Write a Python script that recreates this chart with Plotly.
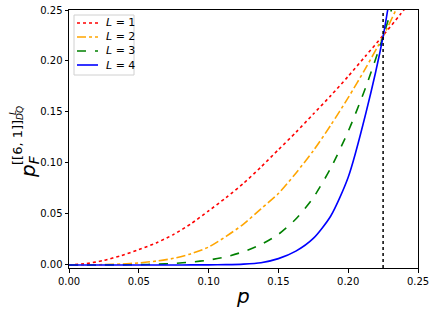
import plotly.graph_objects as go

p = [0.0, 0.0125, 0.025, 0.0375, 0.05, 0.0625, 0.075, 0.0875, 0.1, 0.1125, 0.125,
     0.1375, 0.15, 0.1625, 0.175, 0.1875, 0.2, 0.2125, 0.225, 0.2375, 0.25]
pf_L1 = [0.0, 0.0013, 0.0045, 0.0092, 0.0150, 0.0216, 0.0300, 0.0405, 0.053, 0.066, 0.080,
         0.096, 0.113, 0.130, 0.148, 0.166, 0.185, 0.205, 0.225, 0.246, 0.268]
pf_L2 = [0.0, 0.00003, 0.0003, 0.0009, 0.002, 0.0038, 0.0065, 0.011, 0.0175, 0.028, 0.040,
         0.055, 0.070, 0.090, 0.112, 0.137, 0.164, 0.193, 0.224, 0.260, 0.300]
pf_L3 = [0.0, 0.0, 0.00002, 0.0001, 0.0003, 0.0007, 0.0015, 0.0028, 0.0048, 0.008, 0.013,
         0.020, 0.030, 0.045, 0.066, 0.095, 0.131, 0.174, 0.224, 0.280, 0.340]
pf_L4 = [0.0, 0.0, 0.0, 0.0, 0.0, 0.0, 0.0, 0.00002, 0.0001, 0.0003, 0.0008,
         0.0022, 0.0062, 0.0135, 0.026, 0.048, 0.086, 0.148, 0.224, 0.330, 0.440]
p_threshold = 0.225
legend_labels = ["<i>L</i> = 1", "<i>L</i> = 2", "<i>L</i> = 3", "<i>L</i> = 4"]

series = [
    (legend_labels[0], pf_L1, "red", "dot"),
    (legend_labels[1], pf_L2, "orange", "dashdot"),
    (legend_labels[2], pf_L3, "green", "dash"),
    (legend_labels[3], pf_L4, "blue", "solid"),
]

W, H = 436, 316
L, R, T, B = 69, 18, 10, 48
pw, ph = W - L - R, H - T - B


def px(x):
    return (x - L) / pw


def py(y):
    return (H - B - y) / ph


fig = go.Figure()
for name, ys, col, dash in series:
    fig.add_trace(go.Scatter(x=p, y=ys, mode="lines", name=name, showlegend=False, hoverinfo="skip",
                             line=dict(color=col, dash=dash, width=1.6, shape="spline", smoothing=0.7)))

fig.add_shape(type="line", x0=p_threshold, x1=p_threshold, xref="x", y0=0, y1=1, yref="paper",
              line=dict(color="black", dash="dot", width=1.5))

# manual legend box
fig.add_shape(type="rect", xref="paper", yref="paper", x0=px(74), x1=px(134), y0=py(75), y1=py(15),
              line=dict(color="#d0d0d0", width=1), fillcolor="rgba(255,255,255,0.8)", layer="above")
rows = [23, 37, 51, 65]
for (name, ys, col, dash), ry in zip(series, rows):
    fig.add_shape(type="line", xref="paper", yref="paper", x0=px(77), x1=px(98), y0=py(ry), y1=py(ry),
                  line=dict(color=col, dash=dash, width=1.6), layer="above")
    fig.add_annotation(xref="paper", yref="paper", x=px(104), y=py(ry), text=name, showarrow=False,
                       xanchor="left", yanchor="middle",
                       font=dict(family="DejaVu Sans", size=11, color="black"))

# y-axis label pieces
ylab = [
    ("<i>p</i><sub><i>F</i></sub>", 20, 29, 167),
    ("[[6, 1]]", 13, 17, 143),
    ("<i>L</i>", 9, 13, 112),
    ("<i>DQ</i>", 9, 20, 113),
]
for txt, sz, xx, yy in ylab:
    fig.add_annotation(xref="paper", yref="paper", x=px(xx), y=py(yy), text=txt, showarrow=False,
                       textangle=-90, xanchor="center", yanchor="middle",
                       font=dict(family="DejaVu Sans", size=sz, color="black"))

# x-axis label
fig.add_annotation(xref="paper", yref="paper", x=px(243), y=py(296), text="<i>p</i>", showarrow=False,
                   xanchor="center", yanchor="middle", font=dict(family="DejaVu Sans", size=20, color="black"))

axis_common = dict(showline=True, linecolor="black", linewidth=1, mirror=True,
                   ticks="outside", ticklen=3.5, tickcolor="black", showgrid=False, zeroline=False,
                   tickfont=dict(family="DejaVu Sans", size=10, color="black"))
fig.update_xaxes(range=[0, 0.25], tickvals=[0, 0.05, 0.1, 0.15, 0.2, 0.25], tickformat=".2f", **axis_common)
fig.update_yaxes(range=[-0.003, 0.25], tickvals=[0, 0.05, 0.1, 0.15, 0.2, 0.25], tickformat=".2f", **axis_common)
fig.update_layout(
    width=W, height=H, margin=dict(l=L, r=R, t=T, b=B, autoexpand=False),
    plot_bgcolor="white", paper_bgcolor="white", showlegend=False, hovermode=False,
)
fig.write_html("out.html", config={"displayModeBar": False, "staticPlot": True},
               post_script="document.body.style.margin='0';document.body.style.overflow='hidden';")
